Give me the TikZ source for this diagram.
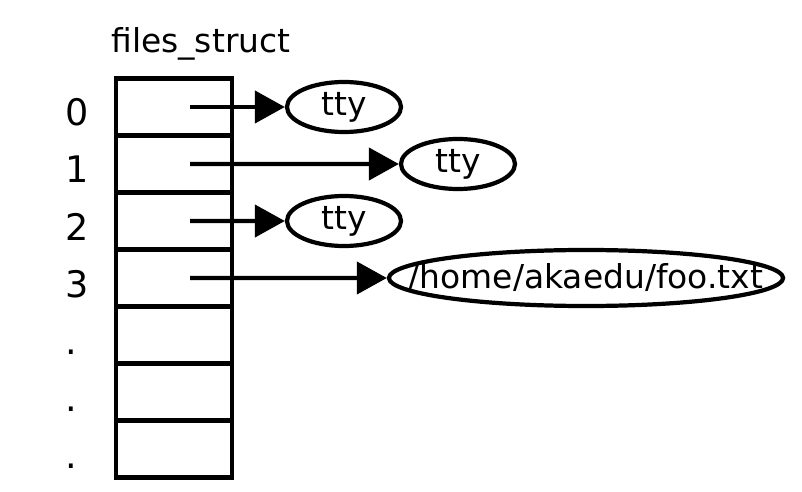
\documentclass[tikz,border=0pt]{standalone}
\usepackage{fontspec}
\setmainfont{DejaVu Sans}
\usetikzlibrary{positioning, shapes.geometric, arrows.meta}

\begin{document}
\begin{tikzpicture}[x = 0.025cm, y = -0.025cm,
  slot/.style = {draw, rectangle, line width = 3.4pt, outer sep = 0pt, inner sep = 0pt,
                 minimum width = 2.9cm, minimum height = 1.425cm},
  idx/.style  = {anchor = base west, inner sep = 0pt, font = \fontsize{26}{26}\selectfont},
  fobj/.style = {draw, ellipse, line width = 3pt, inner sep = 0pt,
                 minimum width = 2.85cm, minimum height = 1.25cm,
                 font = \fontsize{23.4}{24}\selectfont},
  ptr/.style  = {line width = 3pt, -{Triangle[length = 0.75cm, width = 0.8cm]}}]
\useasboundingbox (0,0) rectangle (802,492);
\node[anchor = base west, inner sep = 0pt, font = \fontsize{23.4}{24}\selectfont] (title) at (111,53) {files\_struct};
\node[slot] (s0) at (174,107) {};
\node[slot, below = 0pt of s0] (s1) {};
\node[slot, below = 0pt of s1] (s2) {};
\node[slot, below = 0pt of s2] (s3) {};
\node[slot, below = 0pt of s3] (s4) {};
\node[slot, below = 0pt of s4] (s5) {};
\node[slot, below = 0pt of s5] (s6) {};
\foreach \i/\t in {0/0, 1/1, 2/2, 3/3, 4/., 5/., 6/.}{
\node[idx] (n\i) at (65.5, 126 + 57*\i) {\t};
}
\node[fobj] (f0) at (344,107) {tty};
\node[fobj] (f1) at (458,164) {tty};
\node[fobj] (f2) at (344,221) {tty};
\node[fobj, inner xsep = -1cm, minimum width = 9.85cm, minimum height = 1.4cm] (f3) at (586,278) {/home/akaedu/foo.txt};
\foreach \i in {0,...,3}{
\draw[ptr] ([xshift = 0.4cm]s\i.center) -- (f\i.west);
}
\end{tikzpicture}
\end{document}
